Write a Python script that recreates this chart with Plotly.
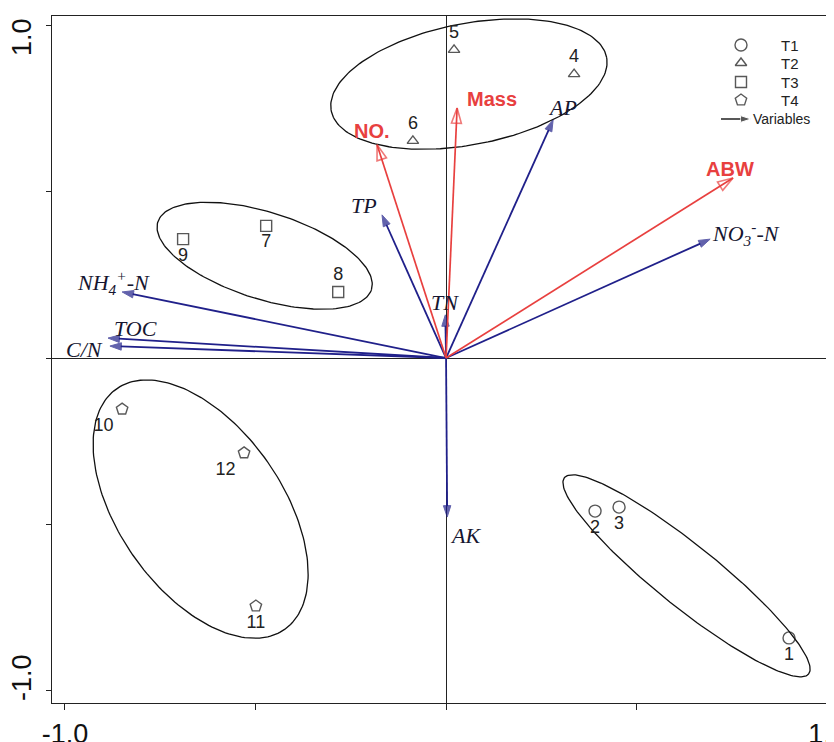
import numpy as np
import plotly.graph_objects as go

# sample scores on RDA1 / RDA2
sample_id = ['1', '2', '3', '4', '5', '6', '7', '8', '9', '10', '11', '12']
sample_grp = ['T1', 'T1', 'T1', 'T2', 'T2', 'T2', 'T3', 'T3', 'T3', 'T4', 'T4', 'T4']
sample_x = [0.900, 0.391, 0.454, 0.336, 0.021, -0.087, -0.472, -0.283, -0.690, -0.850, -0.499, -0.530]
sample_y = [-0.843, -0.461, -0.449, 0.855, 0.928, 0.654, 0.398, 0.199, 0.358, -0.154, -0.747, -0.286]

# explanatory variables (blue arrows)
env_names = ['AP', 'NO<sub>3</sub><sup>-</sup>-N', 'TP', 'TN',
             'NH<sub>4</sub><sup>+</sup>-N', 'TOC', 'C/N', 'AK']
env_x = [0.281, 0.693, -0.168, -0.002, -0.850, -0.887, -0.882, 0.003]
env_y = [0.717, 0.358, 0.431, 0.130, 0.199, 0.060, 0.036, -0.479]

# response variables (red arrows)
resp_names = ['NO.', 'Mass', 'ABW']
resp_x = [-0.181, 0.029, 0.753]
resp_y = [0.642, 0.753, 0.542]

# group ellipses: centre, semi-axes (in RDA1 units), screen angle in degrees
ell_cx = [0.631, 0.060, -0.476, -0.644]
ell_cy = [-0.656, 0.825, 0.308, -0.455]
ell_a = [0.411, 0.368, 0.294, 0.385]
ell_b = [0.081, 0.159, 0.114, 0.215]
ell_ang = [-38.8, 11.0, -17.6, -55.1]

legend_names = ['T1', 'T2', 'T3', 'T4']
tick_vals = [-1, -0.5, 0, 0.5, 1]
tick_text = ['-1.0', '', '', '', '1.0']

BLUE = '#20208A'
RED = '#E8403F'
OFF = 8  # page body margin
W, H = 834 - OFF, 742 - OFF
ML, MR, MT, MB = 52 - OFF, 0, 16 - OFF, 39
XR = [-1.034, 1.018]
YR = [-1.039, 1.030]
kx = (W - ML - MR) / (XR[1] - XR[0])
ky = (H - MT - MB) / (YR[1] - YR[0])

symbols = {'T1': 'circle-open', 'T2': 'triangle-up-open',
           'T3': 'square-open', 'T4': 'pentagon-open'}
sizes = {'T1': 12, 'T2': 10, 'T3': 11, 'T4': 12}
textpos = ['bottom center', 'bottom center', 'bottom center', 'top center',
           'top center', 'top center', 'bottom center', 'top center',
           'bottom center', 'bottom left', 'bottom center', 'bottom left']
env_off = [(9, 12, 'center'), (0, 6, 'left'), (-18, 9, 'center'), (0, 12, 'center'),
           (-9, 9, 'center'), (27, 10, 'center'), (-25, -3, 'center'), (18, -18, 'center')]
resp_off = [(-5, 14), (35, 9), (-3, 9)]

fig = go.Figure()

# ellipses
t = np.linspace(0, 2 * np.pi, 200)
for cx, cy, a, b, ang in zip(ell_cx, ell_cy, ell_a, ell_b, ell_ang):
    th = np.radians(ang)
    ap, bp = a * kx, b * kx
    dx = ap * np.cos(t) * np.cos(th) - bp * np.sin(t) * np.sin(th)
    dy = ap * np.cos(t) * np.sin(th) + bp * np.sin(t) * np.cos(th)
    fig.add_trace(go.Scatter(x=cx + dx / kx, y=cy + dy / ky, mode='lines',
                             line=dict(color='#111', width=1.3),
                             showlegend=False, hoverinfo='skip'))

# blue arrows
for ex, ey in zip(env_x, env_y):
    fig.add_trace(go.Scatter(
        x=[0, ex], y=[0, ey], mode='lines+markers',
        line=dict(color=BLUE, width=1.8),
        marker=dict(symbol='arrow', size=[0, 12], angleref='previous',
                    color=BLUE, line=dict(color=BLUE, width=1)),
        showlegend=False, hoverinfo='skip'))

# red arrows
for rx, ry in zip(resp_x, resp_y):
    fig.add_trace(go.Scatter(
        x=[0, rx], y=[0, ry], mode='lines+markers',
        line=dict(color=RED, width=1.7),
        marker=dict(symbol='arrow-open', size=[0, 16], angleref='previous',
                    color=RED, line=dict(color=RED, width=1.6)),
        showlegend=False, hoverinfo='skip'))

# samples
fig.add_trace(go.Scatter(
    x=sample_x, y=sample_y, mode='markers+text', text=sample_id,
    textposition=textpos,
    textfont=dict(family='Liberation Sans', size=18, color='#222'),
    marker=dict(symbol=[symbols[g] for g in sample_grp],
                size=[sizes[g] for g in sample_grp],
                color='#111', line=dict(color='#111', width=1.4)),
    showlegend=False, hoverinfo='skip'))

ann = []
for name, ex, ey, (xs, ys, xa) in zip(env_names, env_x, env_y, env_off):
    ann.append(dict(x=ex, y=ey, text='<i>' + name + '</i>', showarrow=False,
                    xshift=xs, yshift=ys, xanchor=xa,
                    font=dict(family='Liberation Serif', size=22, color='#161630')))
for name, rx, ry, (xs, ys) in zip(resp_names, resp_x, resp_y, resp_off):
    ann.append(dict(x=rx, y=ry, text='<b>' + name + '</b>', showarrow=False,
                    xshift=xs, yshift=ys,
                    font=dict(family='Liberation Sans', size=20, color=RED)))

# y tick labels as rotated annotations (kept inside the page)
for v, txt in zip(tick_vals, tick_text):
    if txt:
        ann.append(dict(x=0, xref='paper', y=v, yref='y', text=txt, showarrow=False,
                        textangle=-90, xanchor='center', yanchor='middle',
                        xshift=-30, yshift=-11 if v > 0 else 12,
                        font=dict(family='Liberation Sans', size=27, color='#111')))

# legend drawn on an overlay axis measured in screen pixels
leg_y = [45, 63, 82, 100]
fig.add_trace(go.Scatter(
    x=[741] * 4, y=leg_y, mode='markers', xaxis='x2', yaxis='y2',
    marker=dict(symbol=[symbols[g] for g in legend_names],
                size=[sizes[g] for g in legend_names],
                color='#111', line=dict(color='#111', width=1.4)),
    showlegend=False, hoverinfo='skip'))
fig.add_trace(go.Scatter(
    x=[721, 751], y=[119, 119], mode='lines+markers', xaxis='x2', yaxis='y2',
    line=dict(color='#111', width=1.4),
    marker=dict(symbol='arrow', size=[0, 11], angleref='previous', color='#111'),
    showlegend=False, hoverinfo='skip'))
for name, ly in zip(legend_names, leg_y):
    ann.append(dict(x=779, y=ly, xref='x2', yref='y2', text=name, showarrow=False,
                    xanchor='left', font=dict(family='Liberation Sans', size=15, color='#222')))
ann.append(dict(x=751, y=119, xref='x2', yref='y2', text='Variables', showarrow=False,
                xanchor='left', font=dict(family='Liberation Sans', size=14, color='#222')))

fig.update_layout(
    width=W, height=H, margin=dict(l=ML, r=MR, t=MT, b=MB),
    plot_bgcolor='white', paper_bgcolor='white', hovermode=False,
    annotations=ann,
    xaxis=dict(range=XR, showgrid=False, zeroline=True, zerolinecolor='#222',
               zerolinewidth=1.3, showline=True, linecolor='#222', linewidth=1.3,
               mirror=True, ticks='outside', ticklen=6, tickcolor='#222',
               automargin=False, ticklabeloverflow='allow',
               tickvals=tick_vals, ticktext=tick_text,
               tickfont=dict(family='Liberation Sans', size=27, color='#111')),
    yaxis=dict(range=YR, showgrid=False, zeroline=True, zerolinecolor='#222',
               zerolinewidth=1.3, showline=True, linecolor='#222', linewidth=1.3,
               ticks='outside', ticklen=5, tickcolor='#222',
               automargin=False, showticklabels=False,
               tickvals=tick_vals),
    xaxis2=dict(range=[ML + OFF, W + OFF - MR], overlaying='x', anchor='y2', visible=False),
    yaxis2=dict(range=[H + OFF - MB, MT + OFF], overlaying='y', anchor='x2', visible=False),
)

fig.write_html("out.html")
